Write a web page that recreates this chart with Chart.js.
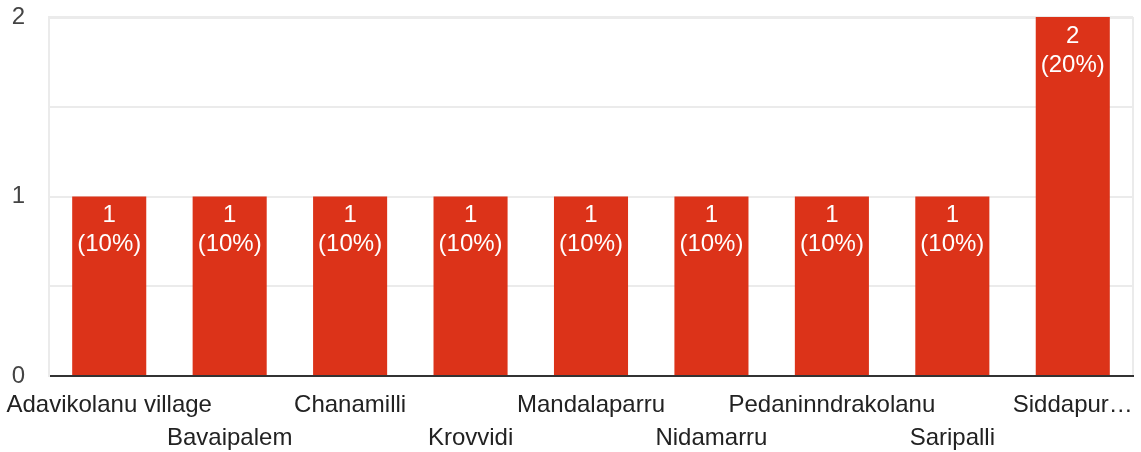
<!DOCTYPE html>
<html>
<head>
<meta charset="utf-8">
<script src="https://cdn.jsdelivr.net/npm/chart.js@4"></script>
<style>
html,body{margin:0;padding:0;background:#fff;}
#wrap{width:1141px;height:452px;position:relative;}
</style>
</head>
<body>
<div id="wrap"><canvas id="c" width="1141" height="452"></canvas></div>
<script>
const categories = ["Adavikolanu village","Bavaipalem","Chanamilli","Krovvidi","Mandalaparru","Nidamarru","Pedaninndrakolanu","Saripalli","Siddapur…"];
const counts = [1,1,1,1,1,1,1,1,2];
const yTickLabels = [0,1,2];

const total = counts.reduce((a,b)=>a+b,0);
const staggered = categories.map((c,i)=> i%2===0 ? [c] : ["", c]);

const FONT = "'Liberation Sans', Arial, sans-serif";

const barLabels = {
  id: 'barLabels',
  afterDatasetsDraw(chart){
    const ctx = chart.ctx;
    const meta = chart.getDatasetMeta(0);
    ctx.save();
    ctx.fillStyle = '#ffffff';
    ctx.font = "24px " + FONT;
    ctx.textAlign = 'center';
    ctx.textBaseline = 'middle';
    meta.data.forEach((bar,i)=>{
      const v = counts[i];
      const pct = Math.round(v/total*100);
      ctx.fillText(String(v), bar.x, bar.y + 19);
      ctx.fillText('(' + pct + '%)', bar.x, bar.y + 48);
    });
    ctx.restore();
  }
};

new Chart(document.getElementById('c'), {
  type: 'bar',
  data: {
    labels: staggered,
    datasets: [{
      data: counts,
      backgroundColor: '#dc3319',
      borderWidth: 0,
      categoryPercentage: 1,
      barPercentage: 0.615
    }]
  },
  options: {
    responsive: false,
    animation: false,
    devicePixelRatio: 1,
    layout: { padding: { top: 17, right: 8, bottom: 0, left: 0 } },
    plugins: { legend: { display: false }, tooltip: { enabled: false } },
    scales: {
      x: {
        offset: true,
        grid: {
          offset: true,
          drawTicks: false,
          lineWidth: 2,
          color: c => (c.type !== 'tick' || c.index === 0) ? '#ebebeb' : 'rgba(0,0,0,0)'
        },
        border: { display: true, color: '#333333', width: 2 },
        ticks: {
          autoSkip: false,
          maxRotation: 0,
          minRotation: 0,
          padding: 13,
          color: '#222222',
          font: { family: FONT, size: 24, lineHeight: 1.37 }
        },
        afterFit: s => { s.paddingLeft = 0; s.paddingRight = 0; s.height = 76; }
      },
      y: {
        min: 0,
        max: 2,
        ticks: {
          stepSize: 0.5,
          padding: 24,
          color: '#444444',
          font: { family: FONT, size: 24 },
          callback: v => yTickLabels.includes(v) ? String(v) : ''
        },
        grid: {
          drawTicks: false,
          lineWidth: c => c.tick && c.tick.value === 2 ? 3 : 2,
          color: c => c.tick && c.tick.value === 0 ? '#333333' : '#ebebeb'
        },
        border: { display: true, color: '#ebebeb', width: 2 },
        afterFit: s => { s.width = 49; s.paddingTop = 0; s.paddingBottom = 0; }
      }
    }
  },
  plugins: [barLabels]
});
</script>
</body>
</html>
